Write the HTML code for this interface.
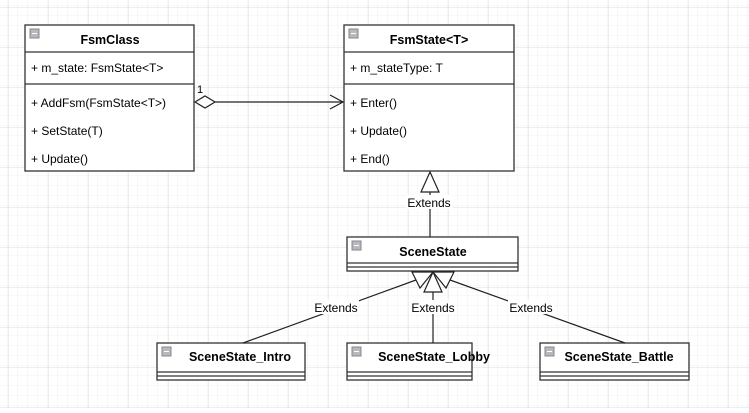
<!DOCTYPE html><html><head><style>
body{margin:0;width:749px;height:408px;overflow:hidden;background:#fff;font-family:"Liberation Sans",sans-serif;}
</style></head><body>
<svg width="749" height="408" xmlns="http://www.w3.org/2000/svg" font-family="Liberation Sans, sans-serif" font-size="12">
<defs>
<pattern id="g1" width="10" height="10" patternUnits="userSpaceOnUse" x="9" y="8"><path d="M10 0V10M0 10H10" stroke="#f0f0f0" fill="none"/></pattern>
<pattern id="g2" width="40" height="40" patternUnits="userSpaceOnUse" x="9" y="8"><rect width="40" height="40" fill="url(#g1)"/><path d="M40 0V40M0 40H40" stroke="#dedede" fill="none"/></pattern>
<g id="mi"><rect width="9" height="9" fill="#b8b8c0" stroke="#888"/><path d="M2 4.5H7" stroke="#fff"/></g>
</defs>
<rect width="749" height="408" fill="url(#g2)"/>
<g stroke="#333" stroke-width="1.3" fill="#fff">
<rect x="25" y="25" width="169" height="146"/><line x1="25" y1="52" x2="194" y2="52"/><line x1="25" y1="84" x2="194" y2="84"/>
<rect x="344" y="25" width="170" height="146"/><line x1="344" y1="52" x2="514" y2="52"/><line x1="344" y1="84" x2="514" y2="84"/>
<rect x="347" y="237" width="171" height="34"/><line x1="347" y1="263" x2="518" y2="263"/><line x1="347" y1="267" x2="518" y2="267"/>
<rect x="157" y="343" width="148" height="37"/><line x1="157" y1="372" x2="305" y2="372"/><line x1="157" y1="376" x2="305" y2="376"/>
<rect x="347" y="343" width="125" height="37"/><line x1="347" y1="372" x2="472" y2="372"/><line x1="347" y1="376" x2="472" y2="376"/>
<rect x="540" y="343" width="149" height="37"/><line x1="540" y1="372" x2="689" y2="372"/><line x1="540" y1="376" x2="689" y2="376"/>
</g>
<use href="#mi" x="30" y="29"/><use href="#mi" x="349" y="29"/><use href="#mi" x="352" y="241"/>
<use href="#mi" x="162" y="347"/><use href="#mi" x="352" y="347"/><use href="#mi" x="545" y="347"/>
<g font-weight="bold" font-size="12.5" text-anchor="middle" fill="#000">
<text x="110" y="44">FsmClass</text><text x="429" y="44">FsmState&lt;T&gt;</text>
<text x="433" y="256">SceneState</text><text x="240" y="361">SceneState_Intro</text>
<text x="434" y="361">SceneState_Lobby</text><text x="619" y="361">SceneState_Battle</text>
</g>
<g fill="#000">
<text x="31" y="72">+ m_state: FsmState&lt;T&gt;</text>
<text x="31" y="107">+ AddFsm(FsmState&lt;T&gt;)</text><text x="31" y="135">+ SetState(T)</text><text x="31" y="163">+ Update()</text>
<text x="350" y="72">+ m_stateType: T</text>
<text x="350" y="107">+ Enter()</text><text x="350" y="135">+ Update()</text><text x="350" y="163">+ End()</text>
<text x="197" y="93" font-size="11">1</text>
</g>
<g stroke="#222" stroke-width="1.2" fill="none">
<path d="M215 102H343"/><path d="M195 102L205 96L215 102L205 108Z" fill="#fff"/>
<path d="M330 95L343 102L330 109"/>
<path d="M430 237V192"/><path d="M430 172L421 192H439Z" fill="#fff"/>
<path d="M243 343L416 280"/><path d="M433 343V292"/><path d="M625 343L450 280"/>
<path d="M433 272L412 272L420 288Z" fill="#fff"/>
<path d="M433 272L424 292H442Z" fill="#fff"/>
<path d="M433 272L454 272L446 288Z" fill="#fff"/>
</g>
<g font-size="12" text-anchor="middle" fill="#000">
<rect x="406" y="195" width="46" height="14" fill="#fff"/><text x="429" y="207">Extends</text>
<rect x="313" y="300" width="46" height="14" fill="#fff"/><text x="336" y="312">Extends</text>
<rect x="410" y="300" width="46" height="14" fill="#fff"/><text x="433" y="312">Extends</text>
<rect x="508" y="300" width="46" height="14" fill="#fff"/><text x="531" y="312">Extends</text>
</g>
</svg>
</body></html>
